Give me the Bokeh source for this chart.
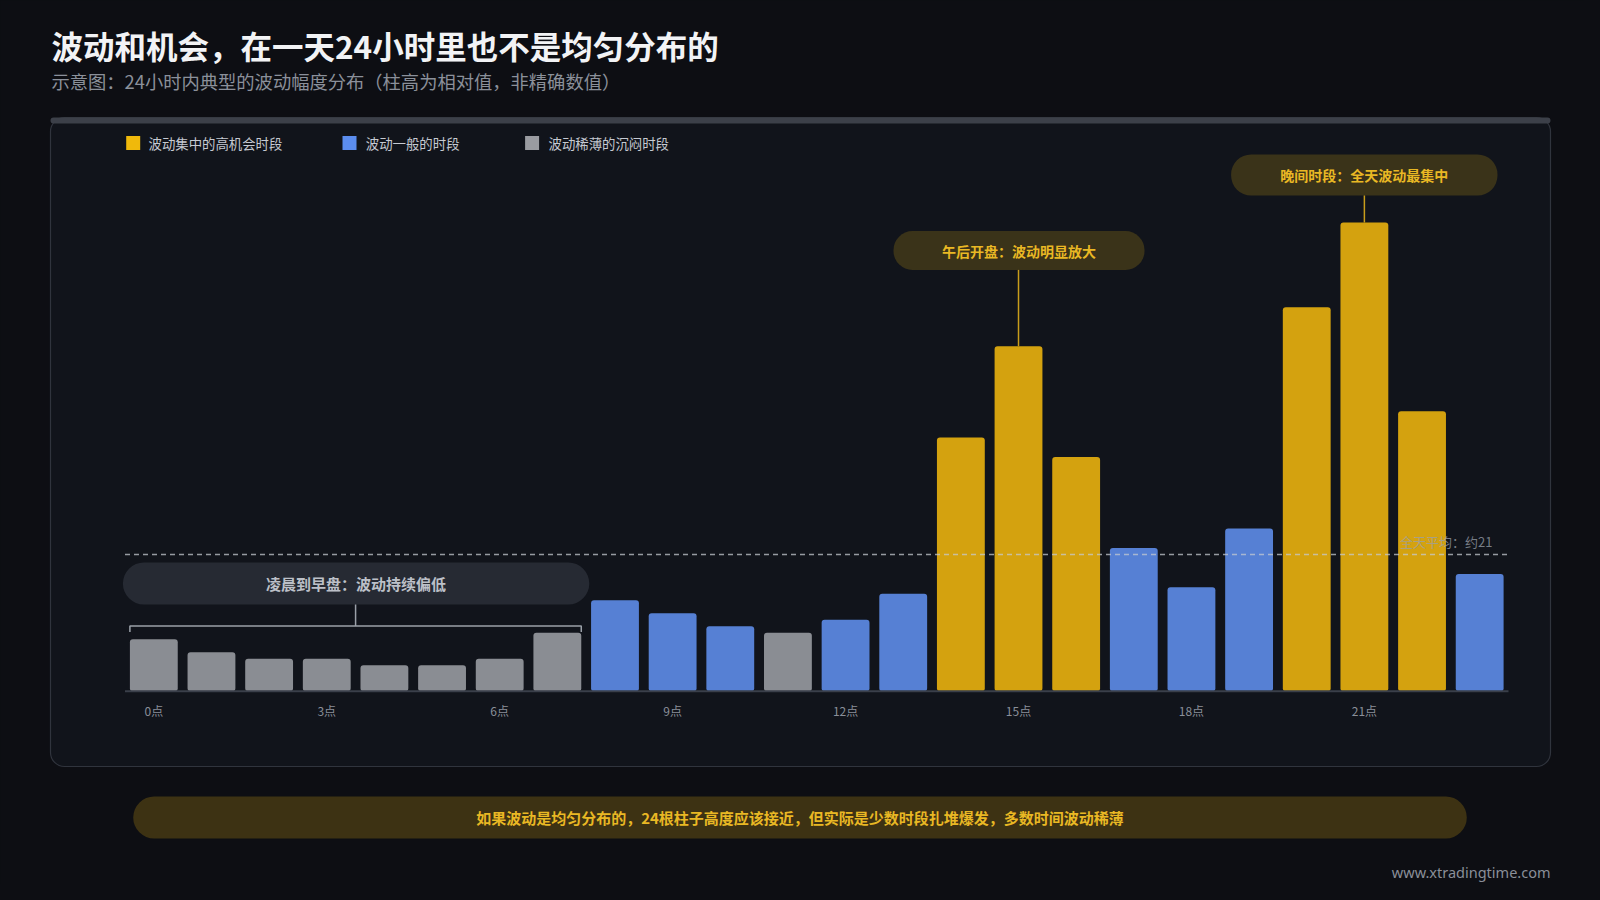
from bokeh.core.properties import value
from bokeh.embed import file_html
from bokeh.models import ColumnDataSource, Range1d
from bokeh.plotting import figure
from bokeh.resources import INLINE

# data (relative volatility per hour)
hours = list(range(24))
volatility = [8, 6, 5, 5, 4, 4, 5, 9, 14, 12, 10, 9, 11, 15, 39, 53, 36, 22, 16, 25, 59, 72, 43, 18]
groups = ["low", "low", "low", "low", "low", "low", "low", "low",
          "mid", "mid", "mid", "low", "mid", "mid",
          "high", "high", "high", "mid", "mid", "mid", "high", "high", "high", "mid"]
tick_hours = [0, 3, 6, 9, 12, 15, 18, 21]
tick_labels = ["0点", "3点", "6点", "9点", "12点", "15点", "18点", "21点"]
avg_value = 21
legend_labels = ["波动集中的高机会时段", "波动一般的时段", "波动稀薄的沉闷时段"]

FONT = value("Noto Sans CJK SC")
BG = "#0d0e13"
CARD = "#11141b"
GOLD = "#d4a20f"
BLUE = "#5680d4"
GREY = "#8a8d93"
bar_colors = {"high": GOLD, "mid": BLUE, "low": GREY}

# page layout: plot area of the bars, in page pixels
W, H = 1584, 884
PX_L, PX_R = 124.5, 1508
PY0, PPU = 690.8, 6.51          # page y of value 0, pixels per unit


def val_at(py):
    return (PY0 - py) / PPU


hr_per_px = 24 / (PX_R - PX_L)

p = figure(width=W, height=H, x_range=Range1d(0, W), y_range=Range1d(H, 0),
           x_axis_location=None, y_axis_location=None, toolbar_location=None,
           output_backend="svg", min_border=0)
p.background_fill_color = BG
p.border_fill_color = BG
p.outline_line_color = None
p.grid.visible = False

p.extra_x_ranges = {"hr": Range1d(-0.5 - PX_L * hr_per_px, 23.5 + (W - PX_R) * hr_per_px)}
p.extra_y_ranges = {"val": Range1d(-(H - PY0) / PPU, PY0 / PPU)}

# titles
p.text(x=[51], y=[44], text=["波动和机会，在一天24小时里也不是均匀分布的"], text_font=FONT,
       text_font_size="31.5px", text_font_style="bold", text_color="#f2f3f5", text_baseline="middle")
p.text(x=[51], y=[80.5], text=["示意图：24小时内典型的波动幅度分布（柱高为相对值，非精确数值）"], text_font=FONT,
       text_font_size="18.3px", text_color="#8b909a", text_baseline="middle")

# card
p.quad(left=[50], right=[1550], top=[117], bottom=[766], fill_color=CARD,
       line_color="#30343d", line_width=1.2, border_radius=14)
p.quad(left=[50], right=[1550], top=[117], bottom=[123], fill_color="#3c4049",
       line_color=None, border_radius=4)

# legend
for cx, tx, col, lab in zip([132.7, 349, 531.6], [148, 365.3, 548],
                            ["#f0b90b", "#5b8def", "#9a9ca1"], legend_labels):
    p.rect(x=[cx], y=[142.5], width=14, height=14, fill_color=col, line_color=None)
    p.text(x=[tx], y=[142.5], text=[lab], text_font=FONT, text_font_size="13.4px",
           text_color="#c6cad2", text_baseline="middle")

# bars
source = ColumnDataSource(dict(hour=hours, vol=volatility,
                               color=[bar_colors[g] for g in groups]))
p.vbar(x="hour", top="vol", bottom=0, width=0.83, source=source, fill_color="color",
       line_color=None, border_radius=3, x_range_name="hr", y_range_name="val")

# baseline
p.segment(x0=[-0.5], x1=[23.5], y0=[0], y1=[0], line_color="#3a3f4a", line_width=2,
          x_range_name="hr", y_range_name="val")

# average line
p.segment(x0=[-0.5], x1=[23.5], y0=[avg_value], y1=[avg_value], line_color="#c4c8d0",
          line_alpha=0.75, line_width=1.5, line_dash="5 4", x_range_name="hr", y_range_name="val")
p.text(x=[1492], y=[541], text=["全天平均：约%d" % avg_value], text_font=FONT,
       text_font_size="13px", text_color="#9aa0aa", text_alpha=0.75,
       text_align="right", text_baseline="middle")

# tick labels
p.text(x=tick_hours, y=[710] * len(tick_hours), text=tick_labels, text_font=FONT,
       text_font_size="12px", text_color="#8a8f99", text_align="center",
       text_baseline="middle", x_range_name="hr")

# callout: low hours
p.quad(left=[122.4], right=[588.8], top=[562], bottom=[604], fill_color="#262a33",
       line_color=None, border_radius=21)
p.text(x=[355.6], y=[583], text=["凌晨到早盘：波动持续偏低"], text_font=FONT,
       text_font_size="15px", text_font_style="bold", text_color="#bcc0c8",
       text_align="center", text_baseline="middle")
p.multi_line(xs=[[-0.415, -0.415, 7.415, 7.415], [3.5, 3.5]],
             ys=[[631.5, 625.5, 625.5, 631.5], [625.5, 604]],
             line_color="#9aa0a8", line_width=1.5, x_range_name="hr")

# callout: afternoon
p.quad(left=[893], right=[1144], top=[230.6], bottom=[269.4], fill_color="#3a3319",
       line_color=None, border_radius=19)
p.text(x=[1018.5], y=[250], text=["午后开盘：波动明显放大"], text_font=FONT,
       text_font_size="14px", text_font_style="bold", text_color="#e9b824",
       text_align="center", text_baseline="middle")
p.segment(x0=[15], x1=[15], y0=[volatility[15]], y1=[val_at(269.4)], line_color="#c99d1b",
          line_width=1.5, x_range_name="hr", y_range_name="val")

# callout: evening
p.quad(left=[1230.6], right=[1497], top=[154], bottom=[195], fill_color="#3a3319",
       line_color=None, border_radius=20)
p.text(x=[1363.8], y=[174.5], text=["晚间时段：全天波动最集中"], text_font=FONT,
       text_font_size="14px", text_font_style="bold", text_color="#e9b824",
       text_align="center", text_baseline="middle")
p.segment(x0=[21], x1=[21], y0=[volatility[21]], y1=[val_at(195)], line_color="#c99d1b",
          line_width=1.5, x_range_name="hr", y_range_name="val")

# footer
p.quad(left=[132.7], right=[1466.3], top=[796], bottom=[838], fill_color="#3d3213",
       line_color=None, border_radius=21)
p.text(x=[799.5], y=[817], text=["如果波动是均匀分布的，24根柱子高度应该接近，但实际是少数时段扎堆爆发，多数时间波动稀薄"],
       text_font=FONT, text_font_size="15px", text_font_style="bold", text_color="#e9b824",
       text_align="center", text_baseline="middle")
p.text(x=[1550], y=[871], text=["www.xtradingtime.com"], text_font=value("Noto Sans"),
       text_font_size="14.5px", text_color="#8a8f99", text_align="right", text_baseline="middle")

html = file_html(p, INLINE).replace("<body>", '<body style="background:%s">' % BG)
open("out.html", "w").write(html)
